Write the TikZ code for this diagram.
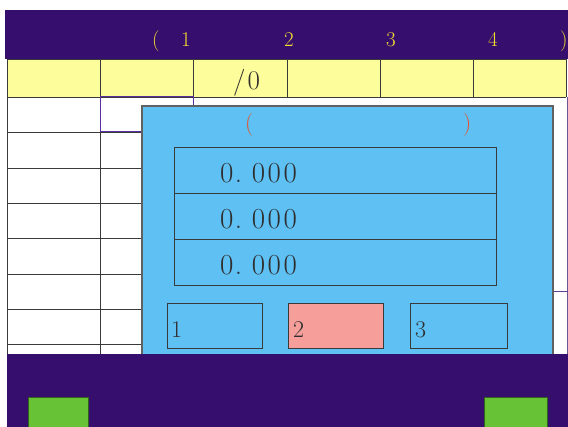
\documentclass[tikz,border=0pt]{standalone}
\definecolor{hdr}{HTML}{360E6E}
\definecolor{yel}{HTML}{FDFD9B}
\definecolor{dlg}{HTML}{5EC0F3}
\definecolor{pinkb}{HTML}{F69E99}
\definecolor{grn}{HTML}{68C235}
\definecolor{ytxt}{HTML}{F2DC30}
\definecolor{otxt}{HTML}{E8522A}
\definecolor{dtxt}{HTML}{2E2E2E}
\definecolor{edge}{HTML}{3A3A3A}
\definecolor{selp}{HTML}{5A2EA0}
\begin{document}
\begin{tikzpicture}[x=1pt,y=-1pt,
  htext/.style={inner sep=0pt, anchor=base west, text=ytxt, font=\fontsize{21}{21}\selectfont},
  dtext/.style={inner sep=0pt, anchor=base west, text=dtxt},
  valtext/.style={dtext, font=\fontsize{29}{29}\selectfont},
  btntext/.style={dtext, font=\fontsize{24}{24}\selectfont},
  gridline/.style={draw=edge, line width=0.9pt},
  boxline/.style={draw=edge, line width=1pt},
]
\useasboundingbox (0,0) rectangle (568,427);
\fill[white] (0,0) rectangle (568,427);
% header bar
\fill[hdr] (5,10) rectangle (572,59);
\node[htext] (hp1) at (152,47) {(};
\node[htext] (h1) at (181,47) {1};
\node[htext] (h2) at (284,47) {2};
\node[htext] (h3) at (386,47) {3};
\node[htext] (h4) at (488,47) {4};
\node[htext] (hp2) at (560,47) {)};
% yellow row
\fill[yel] (7,59) rectangle (566,97);
\foreach \x in {7,100,193,287,380,473,566} \draw[gridline] (\x,59) -- (\x,97);
\draw[gridline] (7,59) -- (566,59);
\draw[gridline] (7,97) -- (566,97);
\node[dtext, font=\fontsize{27}{27}\selectfont] (slash) at (233,90) {/\kern2pt0};
% table rows
\foreach \y in {132,168,203,238,274,309,344} \draw[gridline] (7,\y) -- (142,\y);
\draw[gridline] (7,97) -- (7,354);
\draw[gridline] (100,97) -- (100,354);
\draw[selp, line width=1pt] (100,97) rectangle (193,132);
\draw[selp!50!gray, line width=1pt] (567,97) -- (567,354);
\draw[selp!80!gray, line width=1pt] (553,292) -- (568,292);
% dialog
\draw[fill=dlg, draw=edge!80, line width=1.3pt] (142,106) rectangle (553,362);
\node[inner sep=0pt, anchor=base west, text=otxt, font=\fontsize{23}{23}\selectfont] (dp1) at (245,131) {(};
\node[inner sep=0pt, anchor=base west, text=otxt, font=\fontsize{23}{23}\selectfont] (dp2) at (463,131) {)};
% value boxes
\draw[boxline] (174,148) rectangle (496,194);
\draw[boxline] (174,194) rectangle (496,240);
\draw[boxline] (174,240) rectangle (496,286);
\node[valtext] (v1) at (220,182.7) {0\kern1.5pt.\kern9.5pt0\kern2.6pt0\kern2.6pt0};
\node[valtext] (v2) at (220,228.5) {0\kern1.5pt.\kern9.5pt0\kern2.6pt0\kern2.6pt0};
\node[valtext] (v3) at (220,274.3) {0\kern1.5pt.\kern9.5pt0\kern2.6pt0\kern2.6pt0};
% buttons
\draw[boxline] (167,304) rectangle (262,349);
\draw[boxline, fill=pinkb] (288,304) rectangle (383,349);
\draw[boxline] (410,304) rectangle (507,349);
\node[btntext] (b1) at (171,337.5) {1};
\node[btntext] (b2) at (293,337.5) {2};
\node[btntext] (b3) at (415,337.5) {3};
% footer
\fill[hdr] (7,354) rectangle (572,430);
\draw[fill=grn, draw=grn!50!black, line width=0.8pt] (28,397) rectangle (88,432);
\draw[fill=grn, draw=grn!50!black, line width=0.8pt] (484,397) rectangle (547,432);
\end{tikzpicture}
\end{document}
